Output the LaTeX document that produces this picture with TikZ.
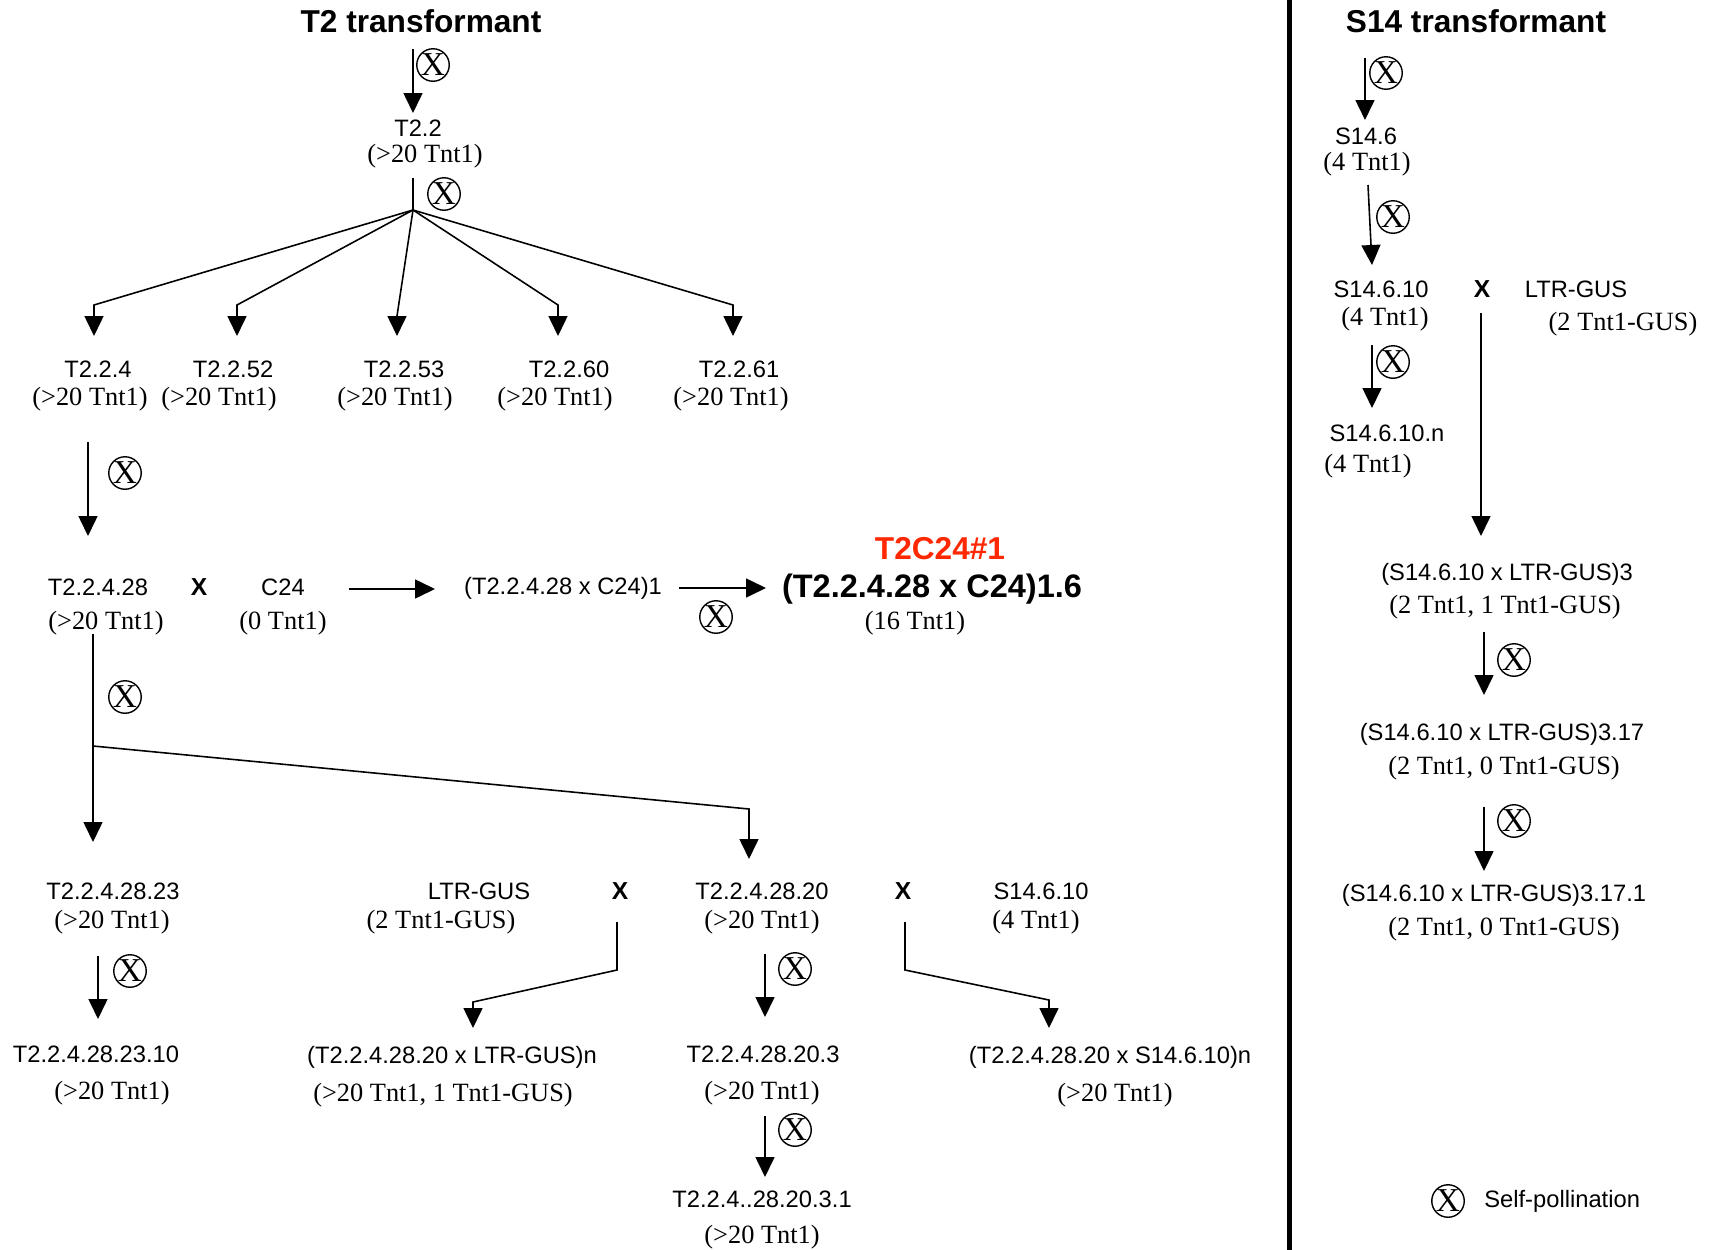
\documentclass[tikz,border=0pt]{standalone}
\usepackage{fontspec}
\setmainfont{Liberation Serif}
\setsansfont{Liberation Sans}
\usetikzlibrary{arrows.meta}
\definecolor{hired}{RGB}{255,40,0}
\begin{document}
\begin{tikzpicture}[x=0.2mm,y=-0.2mm,
  lab/.style={font=\sffamily\fontsize{13.5}{16}\selectfont, inner sep=0pt},
  cnt/.style={font=\rmfamily\fontsize{15}{18}\selectfont, inner sep=0pt},
  ttl/.style={font=\sffamily\bfseries\fontsize{18}{22}\selectfont, inner sep=0pt},
  big/.style={font=\sffamily\bfseries\fontsize{18.5}{22}\selectfont, inner sep=0pt},
  crs/.style={font=\sffamily\bfseries\fontsize{14}{16}\selectfont, inner sep=0pt},
  sp/.style={circle, draw, line width=0.8pt, minimum size=6.4mm, inner sep=0pt, font=\rmfamily\fontsize{19}{19}\selectfont},
  ar/.style={line width=0.9pt, -{Triangle[length=4mm,width=3.8mm]}},
  ln/.style={line width=0.9pt},
]
\fill[white] (0,0) rectangle (1715,1250);
\useasboundingbox (0,0) rectangle (1715,1250);

% ---------------- left: T2 transformant ----------------
\node[ttl] (t2title) at (421,21) {T2 transformant};
\coordinate (a1s) at (413,49); \coordinate (a1e) at (413,113);
\draw[ar] (a1s) -- (a1e);
\node[sp] (x1) at (433,65) {X};

\node[lab] (n22) at (418,128) {T2.2};
\node[cnt] (n22c) at (425,156) {(>20 Tnt1)};

\coordinate (b0) at (413,178); \coordinate (bp) at (413,210);
\draw[ln] (b0) -- (bp);
\node[sp] (x2) at (444,194) {X};

\coordinate (c1) at (94,305);  \coordinate (t1) at (94,336);
\coordinate (c2) at (237,305); \coordinate (t2) at (237,336);
\coordinate (c3) at (397,316); \coordinate (t3) at (397,336);
\coordinate (c4) at (558,305); \coordinate (t4) at (558,336);
\coordinate (c5) at (733,305); \coordinate (t5) at (733,336);
\draw[ar] (bp) -- (c1) -- (t1);
\draw[ar] (bp) -- (c2) -- (t2);
\draw[ar] (bp) -- (c3) -- (t3);
\draw[ar] (bp) -- (c4) -- (t4);
\draw[ar] (bp) -- (c5) -- (t5);

\node[lab] (n224) at (98,369) {T2.2.4};
\node[cnt] (n224c) at (90,399) {(>20 Tnt1)};
\node[lab] (n2252) at (233,369) {T2.2.52};
\node[cnt] (n2252c) at (219,399) {(>20 Tnt1)};
\node[lab] (n2253) at (404,369) {T2.2.53};
\node[cnt] (n2253c) at (395,399) {(>20 Tnt1)};
\node[lab] (n2260) at (569,369) {T2.2.60};
\node[cnt] (n2260c) at (555,399) {(>20 Tnt1)};
\node[lab] (n2261) at (739,369) {T2.2.61};
\node[cnt] (n2261c) at (731,399) {(>20 Tnt1)};

\coordinate (d1s) at (88,442); \coordinate (d1e) at (88,536);
\draw[ar] (d1s) -- (d1e);
\node[sp] (x3) at (125,473) {X};

\node[lab] (n22428) at (98,587) {T2.2.4.28};
\node[cnt] (n22428c) at (106,623) {(>20 Tnt1)};
\node[crs] (cx1) at (199,587) {X};
\node[lab] (c24) at (283,587) {C24};
\node[cnt] (c24c) at (283,623) {(0 Tnt1)};
\coordinate (h1s) at (349,589); \coordinate (h1e) at (435,589);
\draw[ar] (h1s) -- (h1e);
\node[lab] (f1) at (563,588) {(T2.2.4.28 x C24)1};
\coordinate (h2s) at (679,588); \coordinate (h2e) at (766,588);
\draw[ar] (h2s) -- (h2e);
\node[sp] (x4) at (716,617) {X};
\node[font=\sffamily\bfseries\fontsize{18}{22}\selectfont, text=hired, inner sep=0pt] (tc) at (940,549) {T2C24\#1};
\node[big] (f16) at (932,589) {(T2.2.4.28 x C24)1.6};
\node[cnt] (f16c) at (915,623) {(16 Tnt1)};

\coordinate (e0) at (93,634); \coordinate (ebp) at (93,746);
\coordinate (e1) at (93,842);
\coordinate (ec) at (749,809); \coordinate (e2) at (749,859);
\draw[ln] (e0) -- (ebp);
\draw[ar] (ebp) -- (e1);
\draw[ar] (ebp) -- (ec) -- (e2);
\node[sp] (x5) at (125,697) {X};

\node[lab] (n23) at (113,891) {T2.2.4.28.23};
\node[cnt] (n23c) at (112,922) {(>20 Tnt1)};
\node[lab] (ltr1) at (479,891) {LTR-GUS};
\node[cnt] (ltr1c) at (441,922) {(2 Tnt1-GUS)};
\node[crs] (cx2) at (620,891) {X};
\node[lab] (n20) at (762,891) {T2.2.4.28.20};
\node[cnt] (n20c) at (762,922) {(>20 Tnt1)};
\node[crs] (cx3) at (903,891) {X};
\node[lab] (s1461) at (1041,891) {S14.6.10};
\node[cnt] (s1461c) at (1036,922) {(4 Tnt1)};

\coordinate (g1s) at (98,956); \coordinate (g1e) at (98,1019);
\draw[ar] (g1s) -- (g1e);
\node[sp] (x6) at (130,971) {X};

\coordinate (k1s) at (617,922); \coordinate (k1a) at (617,970);
\coordinate (k1b) at (473,1002); \coordinate (k1e) at (473,1028);
\draw[ar] (k1s) -- (k1a) -- (k1b) -- (k1e);

\coordinate (g2s) at (765,954); \coordinate (g2e) at (765,1017);
\draw[ar] (g2s) -- (g2e);
\node[sp] (x7) at (795,969) {X};

\coordinate (k2s) at (905,922); \coordinate (k2a) at (905,970);
\coordinate (k2b) at (1049,1000); \coordinate (k2e) at (1049,1028);
\draw[ar] (k2s) -- (k2a) -- (k2b) -- (k2e);

\node[lab] (n2310) at (96,1054) {T2.2.4.28.23.10};
\node[cnt] (n2310c) at (112,1093) {(>20 Tnt1)};
\node[lab] (p1) at (452,1057) {(T2.2.4.28.20 x LTR-GUS)n};
\node[cnt] (p1c) at (443,1095) {(>20 Tnt1, 1 Tnt1-GUS)};
\node[lab] (n203) at (763,1054) {T2.2.4.28.20.3};
\node[cnt] (n203c) at (762,1093) {(>20 Tnt1)};
\node[lab] (p2) at (1110,1057) {(T2.2.4.28.20 x S14.6.10)n};
\node[cnt] (p2c) at (1115,1095) {(>20 Tnt1)};

\coordinate (g3s) at (765,1116); \coordinate (g3e) at (765,1177);
\draw[ar] (g3s) -- (g3e);
\node[sp] (x8) at (795,1130) {X};

\node[lab] (n2031) at (762,1199) {T2.2.4..28.20.3.1};
\node[cnt] (n2031c) at (762,1237) {(>20 Tnt1)};

% ---------------- divider ----------------
\coordinate (dv1) at (1289,0); \coordinate (dv2) at (1289,1250);
\draw[line width=1mm] (dv1) -- (dv2);

% ---------------- right: S14 transformant ----------------
\node[ttl] (s14title) at (1476,21) {S14 transformant};
\coordinate (r1s) at (1365,58); \coordinate (r1e) at (1365,120);
\draw[ar] (r1s) -- (r1e);
\node[sp] (y1) at (1386,73) {X};
\node[lab] (s146) at (1366,136) {S14.6};
\node[cnt] (s146c) at (1367,164) {(4 Tnt1)};

\coordinate (r2s) at (1368,185); \coordinate (r2e) at (1372,265);
\draw[ar] (r2s) -- (r2e);
\node[sp] (y2) at (1393,217) {X};
\node[lab] (s14610) at (1381,289) {S14.6.10};
\node[cnt] (s14610c) at (1385,319) {(4 Tnt1)};
\node[crs] (cx4) at (1482,289) {X};
\node[lab] (ltr2) at (1576,289) {LTR-GUS};
\node[cnt] (ltr2c) at (1623,324) {(2 Tnt1-GUS)};

\coordinate (r3s) at (1372,345); \coordinate (r3e) at (1372,408);
\draw[ar] (r3s) -- (r3e);
\node[sp] (y3) at (1393,362) {X};
\node[lab] (s1461n) at (1387,433) {S14.6.10.n};
\node[cnt] (s1461nc) at (1368,466) {(4 Tnt1)};

\coordinate (r4s) at (1481,313); \coordinate (r4e) at (1481,536);
\draw[ar] (r4s) -- (r4e);

\node[lab] (q3) at (1507,574) {(S14.6.10 x LTR-GUS)3};
\node[cnt] (q3c) at (1505,607) {(2 Tnt1, 1 Tnt1-GUS)};
\coordinate (r5s) at (1484,632); \coordinate (r5e) at (1484,695);
\draw[ar] (r5s) -- (r5e);
\node[sp] (y4) at (1514,660) {X};
\node[lab] (q317) at (1502,734) {(S14.6.10 x LTR-GUS)3.17};
\node[cnt] (q317c) at (1504,768) {(2 Tnt1, 0 Tnt1-GUS)};
\coordinate (r6s) at (1484,807); \coordinate (r6e) at (1484,871);
\draw[ar] (r6s) -- (r6e);
\node[sp] (y5) at (1514,821) {X};
\node[lab] (q3171) at (1494,895) {(S14.6.10 x LTR-GUS)3.17.1};
\node[cnt] (q3171c) at (1504,929) {(2 Tnt1, 0 Tnt1-GUS)};

% legend
\node[sp] (leg) at (1448,1201) {X};
\node[lab, anchor=west] (legt) at (1484,1201) {Self-pollination};
\end{tikzpicture}
\end{document}
